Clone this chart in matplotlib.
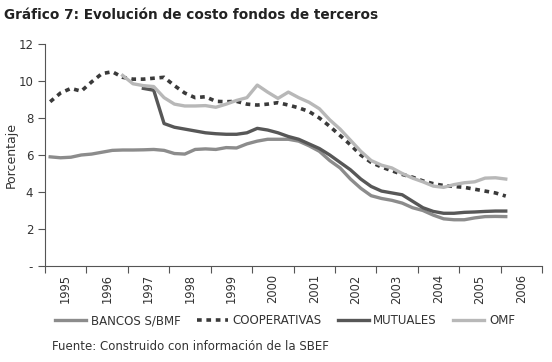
import numpy as np
import matplotlib
matplotlib.use('Agg')
import matplotlib.pyplot as plt

# datos trimestrales 1995T1 - 2006T1
years = [str(y) for y in range(1995, 2007)]
bancos = [5.9, 5.85, 5.88, 6.0, 6.05, 6.15, 6.25, 6.27, 6.27, 6.28, 6.3, 6.25,
          6.08, 6.05, 6.3, 6.33, 6.3, 6.4, 6.38, 6.6, 6.75, 6.85, 6.85, 6.85,
          6.75, 6.5, 6.2, 5.7, 5.3, 4.7, 4.2, 3.8, 3.65, 3.55, 3.4, 3.15,
          3.0, 2.75, 2.55, 2.5, 2.5, 2.6, 2.67, 2.68, 2.67]
cooperativas = [8.88, 9.35, 9.6, 9.45, 9.95, 10.4, 10.5, 10.2, 10.1, 10.1, 10.15, 10.2,
                9.75, 9.35, 9.1, 9.15, 8.9, 8.88, 8.9, 8.75, 8.7, 8.75, 8.83, 8.7,
                8.55, 8.35, 8.0, 7.55, 7.05, 6.55, 6.0, 5.6, 5.35, 5.15, 4.95, 4.8,
                4.6, 4.45, 4.35, 4.3, 4.25, 4.15, 4.05, 3.95, 3.78]
mutuales = [None] * 9 + [9.6, 9.5, 7.7, 7.5, 7.4, 7.3, 7.2, 7.15, 7.12, 7.12, 7.2,
                         7.44, 7.35, 7.2, 7.0, 6.85, 6.6, 6.35, 6.0, 5.6, 5.2, 4.7,
                         4.3, 4.05, 3.95, 3.85, 3.5, 3.15, 2.95, 2.85, 2.85, 2.9,
                         2.92, 2.95, 2.97, 2.97]
omf = [None] * 7 + [10.3, 9.85, 9.75, 9.7, 9.1, 8.75, 8.65, 8.65, 8.67, 8.58, 8.75,
                    8.95, 9.1, 9.78, 9.4, 9.06, 9.4, 9.1, 8.85, 8.5, 7.9, 7.4, 6.8,
                    6.2, 5.7, 5.45, 5.3, 5.0, 4.75, 4.55, 4.32, 4.25, 4.4, 4.5,
                    4.55, 4.75, 4.77, 4.7]

n = len(bancos)
x = 1995 + (np.arange(n) + 0.5) / 4


def serie(v):
    return np.array([np.nan if a is None else a for a in v], dtype=float)


fig = plt.figure(figsize=(5.52, 3.62), dpi=100)
ax = fig.add_axes([45 / 552, 1 - 266 / 362, 497 / 552, 222 / 362])

ax.plot(x, serie(bancos), color='#8c8c8c', lw=2.4, label='BANCOS S/BMF')
ax.plot(x, serie(cooperativas), color='#3a3a3a', lw=2.6, dashes=(1.3, 1.3),
        label='COOPERATIVAS')
ax.plot(x, serie(mutuales), color='#575757', lw=2.4, label='MUTUALES')
ax.plot(x, serie(omf), color='#b8b8b8', lw=2.4, label='OMF')

ax.set_xlim(1995, 2007)
ax.set_ylim(0, 12)
ax.set_yticks(range(0, 13, 2))
ax.set_yticklabels(['-', '2', '4', '6', '8', '10', '12'], fontsize=8.5, color='#333333')
ax.set_xticks(range(1995, 2008))
ax.set_xticklabels([])
ax.set_xticks([int(y) + 0.5 for y in years], minor=True)
ax.set_xticklabels(years, minor=True, rotation=90, fontsize=8.3, color='#333333')
ax.tick_params(axis='x', which='minor', length=0, pad=6)
ax.tick_params(axis='both', which='major', length=5, color='#555555', direction='out')

for s in ['top', 'right']:
    ax.spines[s].set_visible(False)
for s in ['left', 'bottom']:
    ax.spines[s].set_color('#555555')

ax.set_ylabel('Porcentaje', fontsize=9, color='#333333')
ax.yaxis.set_label_coords(-27 / 497, 0.5)

fig.text(4 / 552, 1 - 15 / 362, 'Gráfico 7: Evolución de costo fondos de terceros',
         fontsize=9.8, fontweight='bold', va='center', ha='left', color='#222222')

fig.legend(loc='center', bbox_to_anchor=(285 / 552, 1 - 321 / 362), ncol=4,
           frameon=False, fontsize=8.5, handlelength=2.6, columnspacing=1.4,
           handletextpad=0.4, labelcolor='#333333')

fig.text(52 / 552, 1 - 347 / 362, 'Fuente: Construido con información de la SBEF',
         fontsize=8.5, va='center', ha='left', color='#333333')

fig.savefig('out.png', dpi=100)
